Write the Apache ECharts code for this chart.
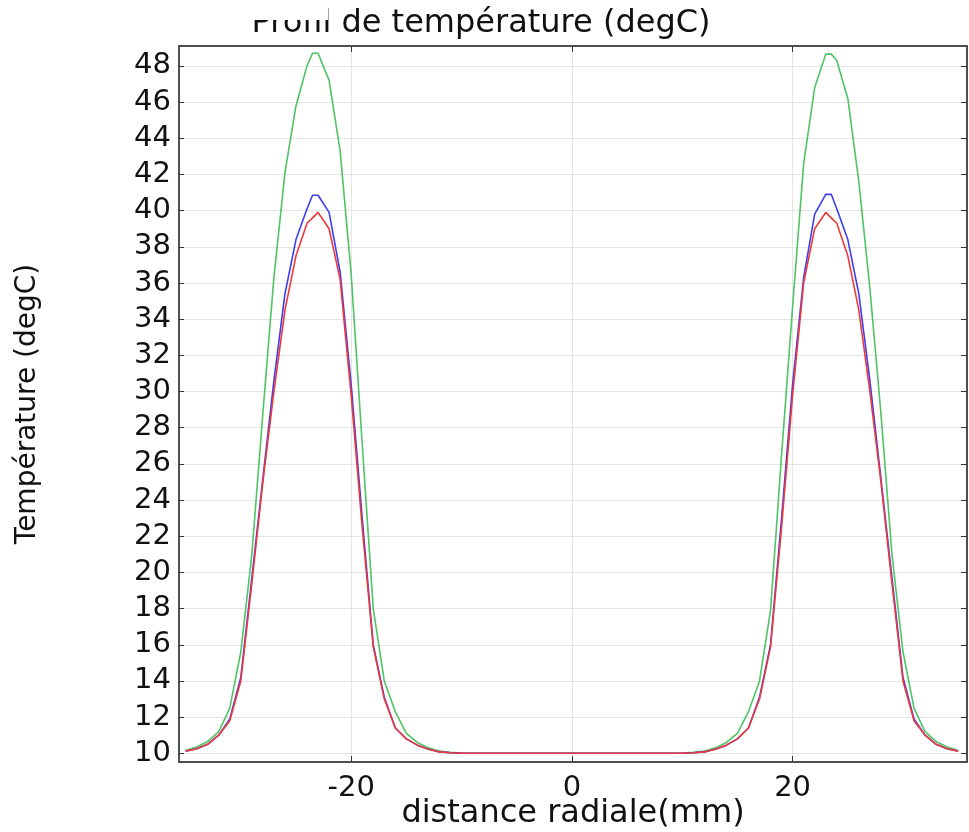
<!DOCTYPE html>
<html>
<head>
<meta charset="utf-8">
<script src="https://cdn.jsdelivr.net/npm/echarts@6/dist/echarts.min.js"></script>
<style>
html,body{margin:0;padding:0;background:#fff;}
#chart{width:969px;height:832px;}
</style>
</head>
<body>
<div id="chart"></div>
<script>
// radial distance (mm)
var xValues = [-35,-34,-33,-32,-31,-30,-29,-28,-27,-26,-25,-24,-23.5,-23,-22,-21,-20,-19,-18,-17,-16,-15,-14,-13,-12,-11,-10,
  -5,0,5,
  10,11,12,13,14,15,16,17,18,19,20,21,22,23,23.5,24,25,26,27,28,29,30,31,32,33,34,35];

var greenTemp = [10.15,10.35,10.65,11.2,12.5,15.6,21.0,28.8,36.3,42.1,45.8,48.0,48.7,48.7,47.2,43.3,36.5,27.1,18.0,14.0,12.3,11.1,10.6,10.3,10.12,10.05,10.02,
  10.0,10.0,10.0,
  10.02,10.05,10.12,10.3,10.6,11.1,12.3,14.0,17.9,26.5,34.7,42.6,46.8,48.65,48.65,48.3,46.2,41.6,35.7,28.8,21.0,15.6,12.5,11.2,10.65,10.35,10.15];

var blueTemp = [10.12,10.25,10.5,11.0,11.9,14.2,19.7,25.2,30.6,35.4,38.4,40.1,40.85,40.85,39.9,36.6,30.4,23.0,16.0,13.1,11.4,10.8,10.45,10.22,10.08,10.03,10.01,
  10.0,10.0,10.0,
  10.01,10.03,10.08,10.22,10.45,10.8,11.4,13.1,16.0,23.0,30.4,36.3,39.8,40.9,40.9,40.1,38.4,35.4,30.6,25.2,19.7,14.2,11.9,11.0,10.5,10.25,10.12];

var redTemp = [10.12,10.25,10.5,11.0,11.8,14.0,19.4,25.0,30.0,34.5,37.5,39.3,39.6,39.9,39.0,36.2,29.8,22.5,15.9,13.0,11.4,10.8,10.45,10.22,10.08,10.03,10.01,
  10.0,10.0,10.0,
  10.01,10.03,10.08,10.22,10.45,10.8,11.4,13.0,15.9,22.5,29.8,36.0,39.0,39.9,39.6,39.3,37.5,34.5,30.0,25.0,19.4,14.0,11.8,11.0,10.5,10.25,10.12];

var xTicks = [-20, 0, 20];
var yTicks = [10,12,14,16,18,20,22,24,26,28,30,32,34,36,38,40,42,44,46,48];

var titleText = 'Profil de température (degC)';
var xName = 'distance radiale(mm)';
var yName = 'Température (degC)';

function pairs(ys){ return xValues.map(function(x,i){ return [x, ys[i]]; }); }

var FONT = 'DejaVu Sans';
var chart = echarts.init(document.getElementById('chart'), null, {renderer:'canvas'});
var X_MIN = -35.6, X_MAX = 35.8, Y_MIN = 9.52, Y_MAX = 49.1;

chart.setOption({
  animation: false,
  backgroundColor: '#fff',
  title: {
    text: titleText, left: 476, top: 3, textAlign: 'center',
    textStyle: {fontFamily: FONT, fontSize: 32, fontWeight: 'normal', color: '#111'}
  },
  graphic: [{
    type: 'rect', shape: {x: 236, y: 0, width: 92, height: 20}, style: {fill: '#fff'}, z: 100
  }],
  grid: {left: 179, top: 46, right: 2, bottom: 70, containLabel: false, outerBoundsMode: 'none',
    show: true, borderColor: '#444', borderWidth: 1.5, backgroundColor: '#fff'},
  xAxis: [{
    type: 'value', min: X_MIN, max: X_MAX, position: 'bottom',
    name: xName, nameLocation: 'middle', nameGap: 36, nameMoveOverlap: false,
    nameTextStyle: {fontFamily: FONT, fontSize: 32, color: '#111'},
    axisLine: {show: true, onZero: false, lineStyle: {color: '#444', width: 1.5}},
    axisTick: {show: true, inside: true, length: 6, customValues: xTicks, lineStyle: {color: '#333'}},
    axisLabel: {customValues: xTicks, fontFamily: FONT, fontSize: 29, color: '#111', margin: 12},
    splitLine: {show: true, lineStyle: {color: '#e4e4e4', width: 1}}
  }, {
    type: 'value', min: X_MIN, max: X_MAX, position: 'top',
    axisLine: {show: true, onZero: false, lineStyle: {color: '#444', width: 1.5}},
    axisTick: {show: true, inside: true, length: 6, customValues: xTicks, lineStyle: {color: '#333'}},
    axisLabel: {show: false},
    splitLine: {show: false}
  }],
  yAxis: [{
    type: 'value', min: Y_MIN, max: Y_MAX, position: 'left',
    name: yName, nameLocation: 'middle', nameRotate: 90, nameGap: 137, nameMoveOverlap: false,
    nameTextStyle: {fontFamily: FONT, fontSize: 28, color: '#111'},
    axisLine: {show: true, onZero: false, lineStyle: {color: '#444', width: 1.5}},
    axisTick: {show: true, inside: true, length: 5, customValues: yTicks, lineStyle: {color: '#333'}},
    axisLabel: {customValues: yTicks, fontFamily: FONT, fontSize: 29, color: '#111', margin: 8},
    splitLine: {show: true, lineStyle: {color: '#e4e4e4', width: 1}}
  }, {
    type: 'value', min: Y_MIN, max: Y_MAX, position: 'right',
    axisLine: {show: true, onZero: false, lineStyle: {color: '#444', width: 1.5}},
    axisTick: {show: true, inside: true, length: 6, customValues: yTicks, lineStyle: {color: '#333'}},
    axisLabel: {show: false},
    splitLine: {show: false}
  }],
  series: [
    {type: 'line', name: 'green', data: pairs(greenTemp), showSymbol: false, lineStyle: {color: '#4fc366', width: 1.6}, itemStyle: {color: '#4fc366'}},
    {type: 'line', name: 'blue', data: pairs(blueTemp), showSymbol: false, lineStyle: {color: '#3c3cf2', width: 1.6}, itemStyle: {color: '#3c3cf2'}},
    {type: 'line', name: 'red', data: pairs(redTemp), showSymbol: false, lineStyle: {color: '#ec3a3a', width: 1.6}, itemStyle: {color: '#ec3a3a'}}
  ]
});
</script>
</body>
</html>
